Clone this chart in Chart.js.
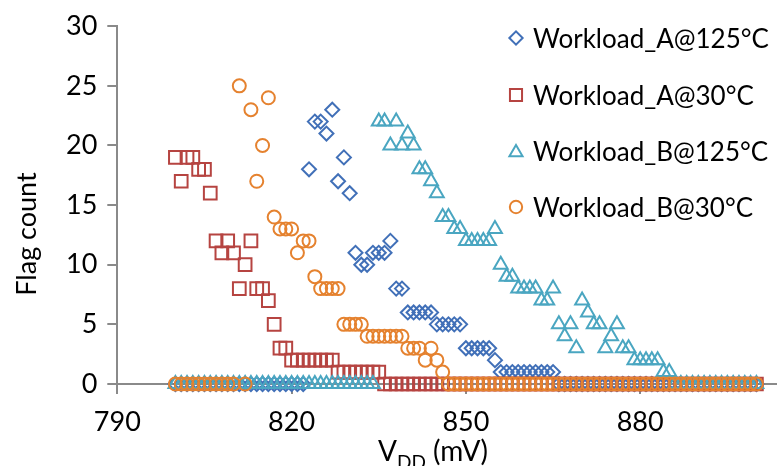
<!DOCTYPE html>
<html>
<head>
<meta charset="utf-8">
<script src="https://cdn.jsdelivr.net/npm/chart.js"></script>
<style>
  html, body { margin: 0; padding: 0; background: #fff; }
  #wrap { width: 777px; height: 466px; overflow: hidden; }
  canvas { display: block; }
</style>
</head>
<body>
<div id="wrap"><canvas id="flags" width="860" height="466"></canvas></div>
<script>
// supply voltage in mV, one reading per mV
var voltages = [
  800, 801, 802, 803, 804, 805, 806, 807, 808, 809,
  810, 811, 812, 813, 814, 815, 816, 817, 818, 819,
  820, 821, 822, 823, 824, 825, 826, 827, 828, 829,
  830, 831, 832, 833, 834, 835, 836, 837, 838, 839,
  840, 841, 842, 843, 844, 845, 846, 847, 848, 849,
  850, 851, 852, 853, 854, 855, 856, 857, 858, 859,
  860, 861, 862, 863, 864, 865, 866, 867, 868, 869,
  870, 871, 872, 873, 874, 875, 876, 877, 878, 879,
  880, 881, 882, 883, 884, 885, 886, 887, 888, 889,
  890, 891, 892, 893, 894, 895, 896, 897, 898, 899,
  900
];
var wlA125 = [
  0, 0, 0, 0, 0, 0, 0, 0, 0, 0,
  0, 0, 0, 0, 0, 0, 0, 0, 0, 0,
  0, 0, 0, 18, 22, 22, 21, 23, 17, 19,
  16, 11, 10, 10, 11, 11, 11, 12, 8, 8,
  6, 6, 6, 6, 6, 5, 5, 5, 5, 5,
  3, 3, 3, 3, 3, 2, 1, 1, 1, 1,
  1, 1, 1, 1, 1, 1, 0, 0, 0, 0,
  0, 0, 0, 0, 0, 0, 0, 0, 0, 0,
  0, 0, 0, 0, 0, 0, 0, 0, 0, 0,
  0, 0, 0, 0, 0, 0, 0, 0, 0, 0,
  0
];
var wlA30 = [
  19, 17, 19, 19, 18, 18, 16, 12, 11, 12,
  11, 8, 10, 12, 8, 8, 7, 5, 3, 3,
  2, 2, 2, 2, 2, 2, 2, 2, 1, 1,
  1, 1, 1, 1, 1, 1, 0, 0, 0, 0,
  0, 0, 0, 0, 0, 0, 0, 0, 0, 0,
  0, 0, 0, 0, 0, 0, 0, 0, 0, 0,
  0, 0, 0, 0, 0, 0, 0, 0, 0, 0,
  0, 0, 0, 0, 0, 0, 0, 0, 0, 0,
  0, 0, 0, 0, 0, 0, 0, 0, 0, 0,
  0, 0, 0, 0, 0, 0, 0, 0, 0, 0,
  0
];
var wlB125 = [
  0, 0, 0, 0, 0, 0, 0, 0, 0, 0,
  0, 0, 0, 0, 0, 0, 0, 0, 0, 0,
  0, 0, 0, 0, 0, 0, 0, 0, 0, 0,
  0, 0, 0, 0, 0, 22, 22, 20, 22, 20,
  21, 20, 18, 18, 17, 16, 14, 14, 13, 13,
  12, 12, 12, 12, 12, 13, 10, 9, 9, 8,
  8, 8, 8, 7, 7, 8, 5, 4, 5, 3,
  7, 6, 5, 5, 3, 4, 5, 3, 3, 2,
  2, 2, 2, 2, 1, 1, 0, 0, 0, 0,
  0, 0, 0, 0, 0, 0, 0, 0, 0, 0,
  0
];
var wlB30 = [
  0, 0, 0, 0, 0, 0, 0, 0, 0, 0,
  0, 25, 0, 23, 17, 20, 24, 14, 13, 13,
  13, 11, 12, 12, 9, 8, 8, 8, 8, 5,
  5, 5, 5, 4, 4, 4, 4, 4, 4, 4,
  3, 3, 3, 2, 3, 2, 1, 0, 0, 0,
  0, 0, 0, 0, 0, 0, 0, 0, 0, 0,
  0, 0, 0, 0, 0, 0, 0, 0, 0, 0,
  0, 0, 0, 0, 0, 0, 0, 0, 0, 0,
  0, 0, 0, 0, 0, 0, 0, 0, 0, 0,
  0, 0, 0, 0, 0, 0, 0, 0, 0, 0,
  0
];
var seriesNames = ['Workload_A@125°C', 'Workload_A@30°C', 'Workload_B@125°C', 'Workload_B@30°C'];
var xTicks = [790, 820, 850, 880, 910];
var yTicks = [0, 5, 10, 15, 20, 25, 30];

var colors = ['#4170b8', '#b64441', '#4aa6c1', '#e5822f'];
var styles = ['rectRot', 'rect', 'triangle', 'circle'];
var radii = [7, 9, 8, 6.5];
var axisGray = '#8a8a8a';
var FONT = 'Lato';

function toPoints(values) {
  return voltages.map(function (v, i) { return { x: v, y: values[i] }; });
}

function makeSet(i, values) {
  return {
    label: seriesNames[i],
    data: toPoints(values),
    pointStyle: styles[i],
    pointRadius: radii[i],
    pointBorderWidth: 2,
    pointBorderColor: colors[i],
    pointBackgroundColor: 'rgba(0,0,0,0)',
    showLine: false,
    clip: false,
    order: 3 - i
  };
}

function marker(ctx, style, x, y, r) {
  ctx.beginPath();
  if (style === 'rectRot') {
    ctx.moveTo(x - r, y); ctx.lineTo(x, y - r); ctx.lineTo(x + r, y); ctx.lineTo(x, y + r);
    ctx.closePath();
  } else if (style === 'rect') {
    var s = r * Math.SQRT1_2;
    ctx.rect(x - s, y - s, 2 * s, 2 * s);
  } else if (style === 'triangle') {
    ctx.moveTo(x, y - r);
    ctx.lineTo(x + r * 0.866, y + r * 0.5);
    ctx.lineTo(x - r * 0.866, y + r * 0.5);
    ctx.closePath();
  } else {
    ctx.arc(x, y, r, 0, Math.PI * 2);
  }
  ctx.stroke();
}

// legend inside the plot, axis titles (with the DD subscript)
var textPlugin = {
  id: 'texts',
  afterDraw: function (chart) {
    var ctx = chart.ctx;
    ctx.save();
    ctx.fillStyle = '#000';
    ctx.textAlign = 'left';
    ctx.textBaseline = 'alphabetic';
    ctx.font = '26px ' + FONT;
    var rowY = [38, 95, 151, 207];
    for (var i = 0; i < 4; i++) {
      ctx.strokeStyle = colors[i];
      ctx.lineWidth = 2;
      var my = rowY[i] + (styles[i] === 'triangle' ? 1.5 : 0);
      marker(ctx, styles[i], 516, my, radii[i] * 0.95);
      ctx.fillText(seriesNames[i], 533, rowY[i] + 10);
    }

    ctx.save();
    ctx.translate(36, 234);
    ctx.rotate(-Math.PI / 2);
    ctx.textAlign = 'center';
    ctx.font = '27px ' + FONT;
    ctx.fillText('Flag count', 0, 0);
    ctx.restore();

    var x = 378, base = 461;
    ctx.font = '28px ' + FONT;
    ctx.fillText('V', x, base);
    x += ctx.measureText('V').width;
    ctx.font = '19px ' + FONT;
    ctx.fillText('DD', x, base + 8);
    x += ctx.measureText('DD').width;
    ctx.font = '28px ' + FONT;
    ctx.fillText(' (mV)', x, base);
    ctx.restore();
  }
};

new Chart(document.getElementById('flags'), {
  type: 'scatter',
  data: {
    datasets: [
      makeSet(0, wlA125),
      makeSet(1, wlA30),
      makeSet(2, wlB125),
      makeSet(3, wlB30)
    ]
  },
  plugins: [textPlugin],
  options: {
    responsive: false,
    animation: false,
    events: [],
    layout: { padding: { left: 0, top: 23.3, right: 860 - 814.5, bottom: 0 } },
    plugins: { legend: { display: false }, tooltip: { enabled: false } },
    scales: {
      x: {
        type: 'linear',
        min: 790,
        max: 910,
        afterBuildTicks: function (axis) { axis.ticks = xTicks.map(function (v) { return { value: v }; }); },
        afterFit: function (axis) { axis.height = 82; },
        border: { display: true, color: axisGray, width: 2 },
        grid: { display: true, drawOnChartArea: false, drawTicks: true, tickLength: 10, color: axisGray, lineWidth: 2 },
        ticks: { color: '#000', font: { family: FONT, size: 27 }, padding: 12, maxRotation: 0 }
      },
      y: {
        min: 0,
        max: 30,
        afterBuildTicks: function (axis) { axis.ticks = yTicks.map(function (v) { return { value: v }; }); },
        afterFit: function (axis) { axis.width = 117.3; },
        border: { display: true, color: axisGray, width: 2 },
        grid: { display: true, drawOnChartArea: false, drawTicks: true, tickLength: 10, color: axisGray, lineWidth: 2 },
        ticks: { color: '#000', font: { family: FONT, size: 27 }, padding: 10 }
      }
    }
  }
});
</script>
</body>
</html>
